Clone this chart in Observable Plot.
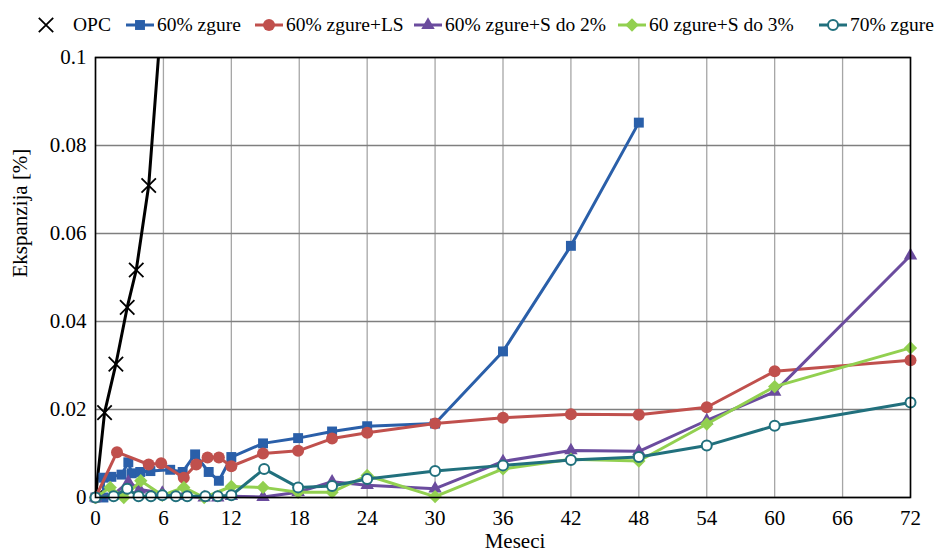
<!DOCTYPE html>
<html><head><meta charset="utf-8">
<script src="https://cdn.jsdelivr.net/npm/d3@7"></script>
<script src="https://cdn.jsdelivr.net/npm/@observablehq/plot@0.6"></script>
<style>
body{margin:0;background:#fff;font-family:"Liberation Serif",serif;}
#legend{position:relative;height:45px;font-size:19.5px;color:#000;}
#legend .item{position:absolute;top:13px;height:24px;display:flex;align-items:center;white-space:nowrap;}
#legend svg{overflow:visible;margin-right:3px;}
#chart svg{display:block;}
</style></head><body>
<div id="legend"></div>
<div id="chart"></div>
<script>
// ---- data (months, expansion %) ----
const seriesNames = ["OPC", "60% zgure", "60% zgure+LS", "60% zgure+S do 2%", "60 zgure+S do 3%", "70% zgure"];
const seriesColors = ["#000000", "#2A5FA9", "#C0504D", "#6B4C9E", "#92D050", "#21707D"];

const opcMonths = [0, 0.8, 1.8, 2.8, 3.6, 4.7, 6];
const opcValues = [0, 0.0193, 0.0303, 0.0432, 0.0517, 0.0709, 0.115];

const zg60Months = [0, 0.7, 0.7, 1.4, 2.3, 2.9, 3.2, 3.95, 4.85, 6.6, 7.7, 8.8, 10, 10.9, 12, 14.8, 17.9, 20.9, 24, 30, 36, 42, 48];
const zg60Values = [0, 0, 0.0045, 0.0047, 0.0052, 0.008, 0.0055, 0.0058, 0.006, 0.0063, 0.0058, 0.0098, 0.0058, 0.0038, 0.0092, 0.0123, 0.0135, 0.015, 0.0162, 0.0168, 0.0332, 0.0572, 0.0852];

const lsMonths = [0, 1.9, 4.7, 5.8, 7.8, 8.9, 9.9, 10.9, 12, 14.8, 17.9, 20.9, 24, 30, 36, 42, 48, 54, 60, 72];
const lsValues = [0, 0.0103, 0.0075, 0.0078, 0.0045, 0.0075, 0.0091, 0.0091, 0.0071, 0.0100, 0.0106, 0.0134, 0.0147, 0.0168, 0.0181, 0.0189, 0.0188, 0.0205, 0.0287, 0.0312];

const s2Months = [0, 1.5, 2.9, 3.9, 5.9, 7.8, 9.6, 10.8, 12, 14.8, 17.9, 20.9, 24, 30, 36, 42, 48, 54, 60, 72];
const s2Values = [0, 0.0005, 0.0035, 0.0018, 0.001, 0.0003, 0, 0, 0.0003, 0.0001, 0.0012, 0.0036, 0.0028, 0.002, 0.0082, 0.0107, 0.0105, 0.0175, 0.024, 0.055];

const s3Months = [0, 1.3, 2.5, 4, 5.9, 7.8, 9.6, 12, 14.8, 17.9, 20.9, 24, 30, 36, 42, 48, 54, 60, 72];
const s3Values = [0, 0.0023, 0, 0.0038, 0.0005, 0.0023, 0, 0.0025, 0.0023, 0.0012, 0.0012, 0.005, 0.0002, 0.0065, 0.0087, 0.0083, 0.0167, 0.0252, 0.034];

const zg70Months = [0, 1.6, 2.8, 3.8, 4.9, 5.9, 7.1, 8.1, 9.7, 10.8, 12, 14.9, 17.9, 20.9, 24, 30, 36, 42, 48, 54, 60, 72];
const zg70Values = [0, 0.0003, 0.002, 0.0003, 0.0003, 0.0005, 0.0003, 0.0003, 0.0003, 0.0003, 0.0005, 0.0065, 0.0023, 0.0026, 0.0042, 0.006, 0.0073, 0.0085, 0.0092, 0.0118, 0.0163, 0.0216];

const xTicks = [0, 6, 12, 18, 24, 30, 36, 42, 48, 54, 60, 66, 72];
const yTicks = [0, 0.02, 0.04, 0.06, 0.08, 0.1];
const xLabel = "Meseci";
const yLabel = "Ekspanzija [%]";

// ---- build tables ----
const toRows = (ms, vs) => ms.map((m, i) => ({m, v: vs[i]}));
const opc = toRows(opcMonths, opcValues);
const zg60 = toRows(zg60Months, zg60Values);
const ls = toRows(lsMonths, lsValues);
const s2 = toRows(s2Months, s2Values);
const s3 = toRows(s3Months, s3Values);
const zg70 = toRows(zg70Months, zg70Values);

const symbols = [
  {symbol: "times", r: 6.6, fill: "none", stroke: "#000", sw: 1.8},
  {symbol: "square", r: 5.6, fill: seriesColors[1], stroke: "none", sw: 0},
  {symbol: "circle", r: 6, fill: seriesColors[2], stroke: "none", sw: 0},
  {symbol: "triangle", r: 5, fill: seriesColors[3], stroke: "none", sw: 0},
  {symbol: "diamond2", r: 6, fill: seriesColors[4], stroke: "none", sw: 0},
  {symbol: "circle", r: 5, fill: "#fff", stroke: seriesColors[5], sw: 2}
];
const datasets = [opc, zg60, ls, s2, s3, zg70];

const fmtY = d => d === 0 ? "0" : String(+d.toFixed(2));

const marks = [
  Plot.gridX(xTicks, {stroke: "#a6a6a6", strokeOpacity: 1, strokeWidth: 1.3}),
  Plot.gridY(yTicks, {stroke: "#7f7f7f", strokeOpacity: 1, strokeWidth: 1.3}),
  Plot.axisX(xTicks, {tickSize: 0, tickPadding: 13, fontSize: 21, label: null, tickFormat: d => String(d)}),
  Plot.axisY(yTicks, {tickSize: 0, tickPadding: 9, fontSize: 21, label: null, tickFormat: fmtY}),
];
datasets.forEach((data, i) => {
  const s = symbols[i];
  marks.push(Plot.line(data, {x: "m", y: "v", stroke: seriesColors[i], strokeWidth: 3, clip: i === 0}));
  marks.push(Plot.dot(data, {x: "m", y: "v", symbol: () => s.symbol, r: s.r, fill: s.fill, stroke: s.stroke, strokeWidth: s.sw, fillOpacity: 1, clip: i === 0}));
});
marks.push(Plot.frame({stroke: "#000", strokeWidth: 1.6}));
marks.push(Plot.text([xLabel], {frameAnchor: "bottom", dy: 44, dx: 12, fontSize: 21, lineAnchor: "middle"}));
marks.push(Plot.text([yLabel], {frameAnchor: "left", dx: -75, rotate: -90, fontSize: 21, lineAnchor: "middle"}));

const chart = Plot.plot({
  width: 936,
  height: 508,
  marginTop: 12,
  marginRight: 26,
  marginBottom: 56,
  marginLeft: 95,
  style: {fontFamily: "'Liberation Serif', serif", color: "#000", background: "#fff"},
  x: {domain: [0, 72]},
  y: {domain: [0, 0.1]},
  symbol: {type: "identity"},
  marks
});
document.getElementById("chart").appendChild(chart);

// ---- legend ----
const legendPos = [36, 126, 255, 414, 618, 819];
const leg = d3.select("#legend");
const symMap = {times: d3.symbolTimes, square: d3.symbolSquare, circle: d3.symbolCircle, triangle: d3.symbolTriangle, diamond2: d3.symbolDiamond2};
seriesNames.forEach((name, i) => {
  const s = symbols[i];
  const item = leg.append("div").attr("class", "item").style("left", legendPos[i] + "px");
  const w = i === 0 ? 20 : 28;
  const svg = item.append("svg").attr("width", w).attr("height", 20);
  if (i > 0) svg.append("line").attr("x1", 0).attr("x2", w).attr("y1", 10).attr("y2", 10).attr("stroke", seriesColors[i]).attr("stroke-width", 3);
  svg.append("path").attr("transform", `translate(${w / 2},10)`)
    .attr("d", d3.symbol(symMap[s.symbol], s.r * s.r * Math.PI)())
    .attr("fill", s.fill).attr("stroke", s.stroke === "none" ? null : s.stroke).attr("stroke-width", s.sw);
  item.append("span").text(name).style("margin-left", i === 0 ? "14px" : "0px");
});
</script>
</body></html>
